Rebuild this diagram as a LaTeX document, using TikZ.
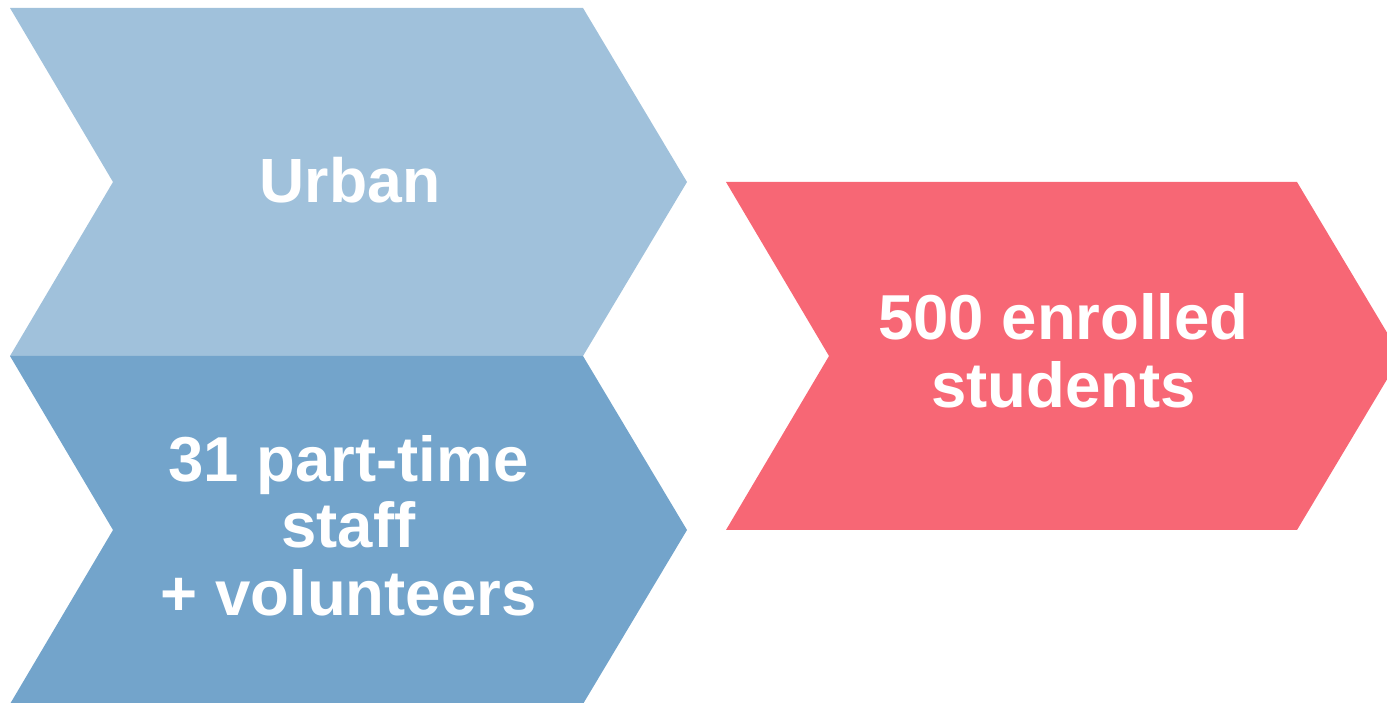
\documentclass[tikz,border=0pt]{standalone}
\usepackage{fontspec}
\setmainfont{Liberation Sans}
\definecolor{lightblue}{HTML}{A0C1DB}
\definecolor{midblue}{HTML}{73A4CB}
\definecolor{coral}{HTML}{F76775}
\begin{document}
\begin{tikzpicture}[x=1pt,y=1pt,
  chev/.style={draw=none},
  lbl/.style={text=white,font=\bfseries\fontsize{63.5}{68}\selectfont,anchor=base,inner sep=0pt},
  biglbl/.style={lbl,font=\bfseries\fontsize{62.5}{68}\selectfont}]
\useasboundingbox (0,0) rectangle (1387,702);
\clip (0,0) rectangle (1387,702);
\fill[lightblue,chev] (10,694) -- (583,694) -- (687,520) -- (583,346) -- (10,346) -- (113,520) -- cycle;
\fill[midblue,chev] (10,346) -- (583,346) -- (687,172) -- (583,-2) -- (10,-2) -- (113,172) -- cycle;
\fill[coral,chev] (726,520) -- (1297,520) -- (1401,346) -- (1297,172) -- (726,172) -- (829,346) -- cycle;
\node[biglbl] (urban) at (350,499) {Urban};
\node[lbl] (staffA) at (348.5,220) {31 part-time};
\node[lbl] (staffB) at (348.5,154) {staff};
\node[lbl] (staffC) at (348.5,87) {+ volunteers};
\node[lbl] (studA) at (1063.5,362) {500 enrolled};
\node[lbl] (studB) at (1063.5,294) {students};
\end{tikzpicture}
\end{document}
